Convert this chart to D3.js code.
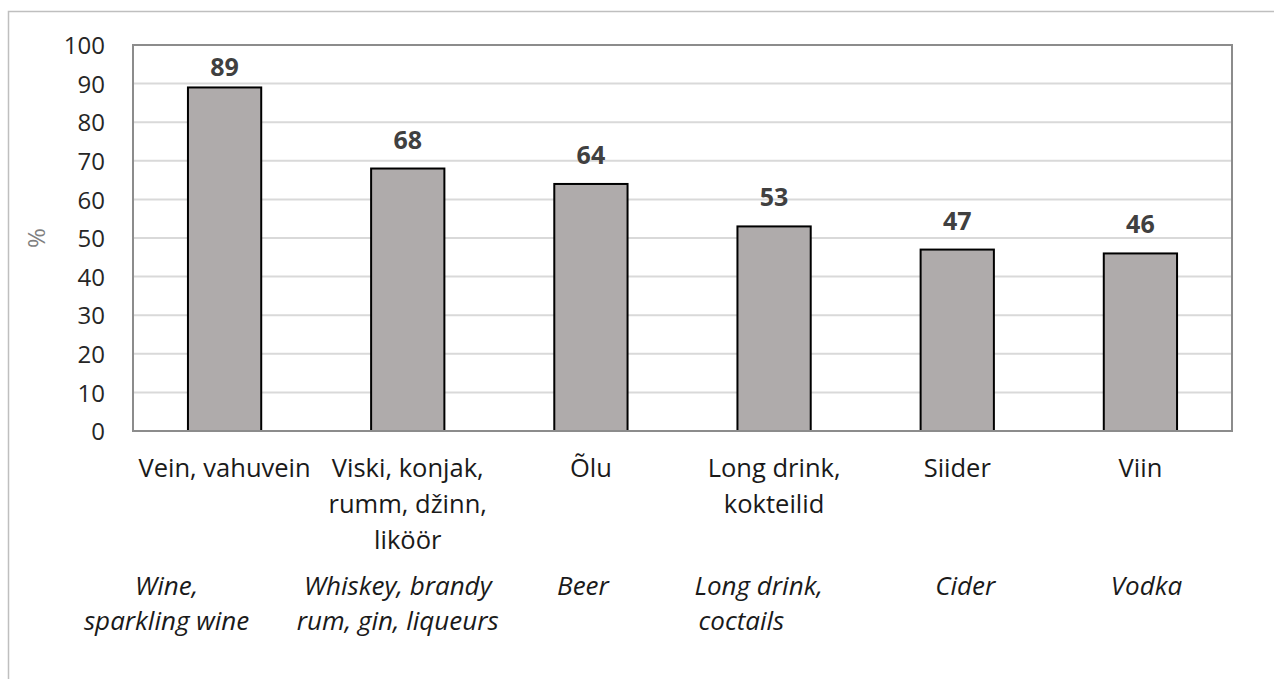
<!DOCTYPE html>
<html>
<head>
<meta charset="utf-8">
<title>Alkohol</title>
<script src="https://cdn.jsdelivr.net/npm/d3@7"></script>
<style>
body { margin: 0; background: #fff; }
svg { display: block; font-family: "Open Sans", sans-serif; }
.tick text { font-size: 24px; fill: #262626; font-family: "Open Sans", sans-serif; }
</style>
</head>
<body>
<svg></svg>
<script>
// data
var categories = ["Vein, vahuvein", "Viski, konjak, rumm, džinn, liköör", "Õlu", "Long drink, kokteilid", "Siider", "Viin"];
var labelLines = [["Vein, vahuvein"], ["Viski, konjak,", "rumm, džinn,", "liköör"], ["Õlu"], ["Long drink,", "kokteilid"], ["Siider"], ["Viin"]];
var englishLines = [["Wine,", "sparkling wine"], ["Whiskey, brandy", "rum, gin, liqueurs"], ["Beer"], ["Long drink,", "coctails"], ["Cider"], ["Vodka"]];
var values = [89, 68, 64, 53, 47, 46];
var yTicks = [0, 10, 20, 30, 40, 50, 60, 70, 80, 90, 100];

var W = 1274, H = 679;
var margin = {top: 45, right: 42, bottom: 248, left: 133};
var width = W - margin.left - margin.right,
    height = H - margin.top - margin.bottom;

var svg = d3.select("svg").attr("width", W).attr("height", H);

// outer frame
svg.append("path")
  .attr("d", "M8.5," + H + "V11.5H" + W)
  .attr("fill", "none")
  .attr("stroke", "#bfbfbf")
  .attr("stroke-width", 1.5);

var chart = svg.append("g")
  .attr("transform", "translate(" + margin.left + "," + margin.top + ")");

var x = d3.scaleBand().domain(categories).range([0, width]).paddingInner(0.6).paddingOuter(0.3);
var xc = d3.scaleBand().domain(categories).range([0, width]);
var y = d3.scaleLinear().domain([0, 100]).range([height, 0]);

// gridlines
chart.append("g")
  .selectAll("line")
  .data(yTicks.slice(1, -1))
  .enter().append("line")
  .attr("x1", 0).attr("x2", width)
  .attr("y1", function(d) { return y(d); })
  .attr("y2", function(d) { return y(d); })
  .attr("stroke", "#d9d9d9")
  .attr("stroke-width", 2);

// y axis
var yAxis = chart.append("g")
  .call(d3.axisLeft(y).tickValues(yTicks).tickSize(0).tickPadding(28));
yAxis.select(".domain").remove();
yAxis.selectAll(".tick text").attr("dy", "0.36em");

// bars
chart.selectAll("rect.bar")
  .data(values)
  .enter().append("rect")
  .attr("class", "bar")
  .attr("x", function(d, i) { return x(categories[i]); })
  .attr("y", function(d) { return y(d); })
  .attr("width", x.bandwidth())
  .attr("height", function(d) { return height - y(d); })
  .attr("fill", "#afabab")
  .attr("stroke", "#000")
  .attr("stroke-width", 2);

// value labels (kept inside the plot near the top)
chart.selectAll("text.val")
  .data(values)
  .enter().append("text")
  .attr("class", "val")
  .attr("x", function(d, i) { return x(categories[i]) + x.bandwidth() / 2; })
  .attr("y", function(d) { return Math.max(y(d) - 20, 31); })
  .attr("text-anchor", "middle")
  .attr("font-size", 25)
  .attr("font-weight", "bold")
  .attr("fill", "#404040")
  .text(function(d) { return d; });

// plot border
chart.append("rect")
  .attr("x", 0).attr("y", 0)
  .attr("width", width).attr("height", height)
  .attr("fill", "none")
  .attr("stroke", "#8c8c8c")
  .attr("stroke-width", 2);

// category labels (Estonian)
var cat = chart.selectAll("text.cat")
  .data(labelLines)
  .enter().append("text")
  .attr("class", "cat")
  .attr("text-anchor", "middle")
  .attr("font-size", 25.5)
  .attr("fill", "#1a1a1a")
  .attr("transform", function(d, i) { return "translate(" + (xc(categories[i]) + xc.bandwidth() / 2) + "," + (height + 46) + ")"; });
cat.selectAll("tspan")
  .data(function(d) { return d; })
  .enter().append("tspan")
  .attr("x", 0)
  .attr("dy", function(d, i) { return i ? 36 : 0; })
  .text(function(d) { return d; });

// english labels sit in loose text boxes under the categories
var enShift = [-58, -10, -8, 0, 8, 6];
var en = chart.selectAll("text.en")
  .data(englishLines)
  .enter().append("text")
  .attr("class", "en")
  .attr("text-anchor", function(d, i) { return i == 3 ? "start" : "middle"; })
  .attr("font-size", 26)
  .attr("font-style", "italic")
  .attr("fill", "#1a1a1a")
  .attr("transform", function(d, i) {
    var cx = i == 3 ? xc(categories[i]) + 12 : xc(categories[i]) + xc.bandwidth() / 2 + enShift[i];
    return "translate(" + cx + "," + (height + 164) + ")";
  });
en.selectAll("tspan")
  .data(function(d) { return d; })
  .enter().append("tspan")
  .attr("x", function(d, i, n) { return n.length > 1 && i == 1 && d == "coctails" ? 4 : 0; })
  .attr("dy", function(d, i) { return i ? 35 : 0; })
  .text(function(d) { return d; });

// axis title
svg.append("text")
  .attr("transform", "translate(45," + (margin.top + height / 2) + ") rotate(-90)")
  .attr("text-anchor", "middle")
  .attr("font-size", 24)
  .attr("fill", "#7f7f7f")
  .text("%");
</script>
</body>
</html>
